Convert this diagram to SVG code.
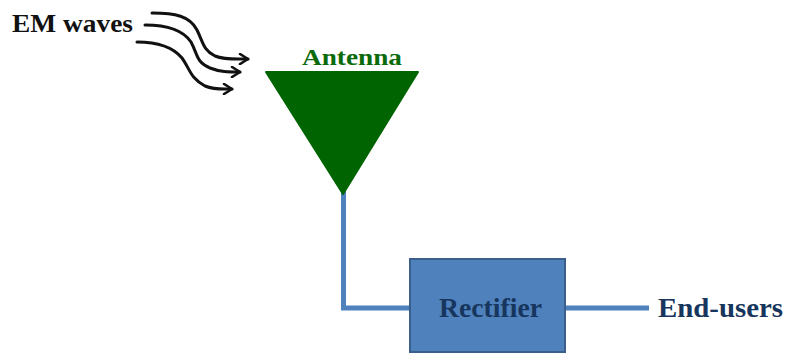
<svg xmlns="http://www.w3.org/2000/svg" width="786" height="354" viewBox="0 0 786 354">
  <style>
    .lbl { font-family: "Liberation Serif", "Times New Roman", serif; font-weight: bold; }
    .wave { fill: none; stroke: #111; stroke-width: 3; stroke-linecap: round; stroke-linejoin: round; }
    .wire { fill: none; stroke: #4f81bd; stroke-width: 5; }
  </style>
  <defs>
    <marker id="open-head" viewBox="0 0 12 12" refX="10" refY="6" markerWidth="12" markerHeight="12" markerUnits="userSpaceOnUse" orient="auto">
      <path d="M2,1 L10,6 L2,11" fill="none" stroke="#111" stroke-width="2.6" stroke-linecap="round" stroke-linejoin="round"/>
    </marker>
  </defs>
  <rect width="786" height="354" fill="#ffffff"/>

  <g id="connectors">
    <path class="wire" d="M343.5,190 V308 H410"/>
    <path class="wire" d="M565,308 H649"/>
    <path class="wave" marker-end="url(#open-head)" d="M152,13 C175,13 190,16 197,30 C203,42 203,50 215,56 C225,60 235,59 248,59"/>
    <path class="wave" marker-end="url(#open-head)" d="M145,25 C165,25 183,30 191,42 C198,55 196,62 210,68 C220,72 228,72 240,72"/>
    <path class="wave" marker-end="url(#open-head)" d="M137,42 C155,42 172,46 182,58 C190,69 190,78 205,86 C215,90 222,89 232,89"/>
  </g>

  <g id="em-waves">
    <text class="lbl" x="12" y="32" font-size="25" fill="#111" textLength="121" lengthAdjust="spacingAndGlyphs">EM waves</text>
  </g>

  <g id="antenna">
    <polygon points="266,72 418,72 343,194" fill="#006400" stroke="#006400" stroke-width="2" stroke-linejoin="round"/>
    <text class="lbl" x="302" y="65" font-size="24" fill="#0b6b0b" textLength="100" lengthAdjust="spacingAndGlyphs">Antenna</text>
  </g>

  <g id="rectifier">
    <rect x="410" y="259" width="155" height="93" fill="#4f81bd" stroke="#3a5f8c" stroke-width="2"/>
    <text class="lbl" x="439" y="317" font-size="27" fill="#17365d" textLength="103" lengthAdjust="spacingAndGlyphs">Rectifier</text>
  </g>

  <g id="end-users">
    <text class="lbl" x="658" y="317" font-size="27" fill="#17365d" textLength="125" lengthAdjust="spacingAndGlyphs">End-users</text>
  </g>
</svg>
